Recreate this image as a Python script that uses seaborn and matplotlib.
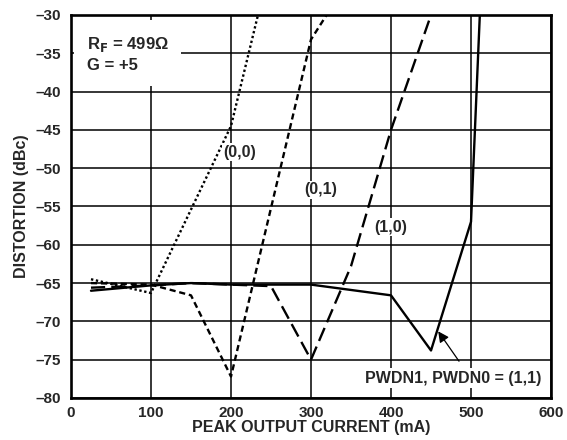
import matplotlib
matplotlib.use("Agg")
import matplotlib.pyplot as plt
import seaborn as sns
import pandas as pd

# peak output current (mA) and distortion (dBc) per PWDN1,PWDN0 setting
x_00 = [25, 100, 200, 250]
y_00 = [-64.5, -66.3, -44.5, -23.0]

x_01 = [25, 100, 150, 200, 300, 350]
y_01 = [-65.0, -65.2, -66.6, -77.2, -33.2, -25.0]

x_10 = [25, 100, 150, 200, 250, 300, 350, 400, 450]
y_10 = [-65.6, -65.3, -65.0, -65.2, -65.4, -75.0, -62.8, -45.0, -30.0]

x_11 = [25, 100, 150, 200, 300, 400, 450, 500, 520]
y_11 = [-66.0, -65.3, -65.0, -65.2, -65.2, -66.6, -73.8, -57.0, -8.0]

series = ["(0,0)", "(0,1)", "(1,0)", "(1,1)"]

frames = []
for name, xs, ys in zip(series, [x_00, x_01, x_10, x_11], [y_00, y_01, y_10, y_11]):
    frames.append(pd.DataFrame({"current": xs, "dist": ys, "mode": name}))
df = pd.concat(frames, ignore_index=True)

sns.set_style("white")
plt.rcParams["font.family"] = ["Liberation Sans", "DejaVu Sans"]
plt.rcParams["font.weight"] = "bold"
plt.rcParams["mathtext.default"] = "bf"

fig = plt.figure(figsize=(5.67, 4.4), dpi=100)
ax = fig.add_axes([0.1252, 0.0955, 0.8466, 0.8705])

dashes = {"(0,0)": (1, 1.1), "(0,1)": (2.6, 1.6), "(1,0)": (6, 2.6), "(1,1)": ""}
sns.lineplot(data=df, x="current", y="dist", hue="mode", style="mode",
             palette=["black"] * 4, dashes=dashes, linewidth=1.7,
             legend=False, sort=False, estimator=None, ax=ax, zorder=3)

ax.set_xlim(0, 600)
ax.set_ylim(-80, -30)
ax.set_xticks(range(0, 601, 100))
ax.set_yticks(range(-80, -29, 5))
ax.set_yticklabels([f"\u2013{abs(v)}" for v in range(-80, -29, 5)])
ax.grid(True, color="black", linewidth=1.1)
ax.tick_params(length=0, labelsize=11)
ax.tick_params(axis="y", pad=7)
ax.tick_params(axis="x", pad=6)
for lbl in ax.get_xticklabels() + ax.get_yticklabels():
    lbl.set_fontweight("bold")
for s in ax.spines.values():
    s.set_visible(True)
    s.set_color("black")
    s.set_linewidth(1.9)

ax.set_xlabel("PEAK OUTPUT CURRENT (mA)", fontsize=11.5, fontweight="bold", labelpad=0)
ax.set_ylabel("DISTORTION (dBc)", fontsize=11.5, fontweight="bold", labelpad=5)

ax.text(20, -35.1, "R$_F$ = 499\u03a9\nG = +5", fontsize=12, fontweight="bold",
        va="center", ha="left", linespacing=1.35, zorder=4,
        bbox=dict(facecolor="white", edgecolor="none", pad=9))

lbl_box = dict(facecolor="white", edgecolor="none", pad=1)
ax.text(211, -47.9, "(0,0)", fontsize=11.5, fontweight="bold", ha="center", va="center",
        zorder=4, bbox=lbl_box)
ax.text(312, -52.8, "(0,1)", fontsize=11.5, fontweight="bold", ha="center", va="center",
        zorder=4, bbox=lbl_box)
ax.text(400, -57.7, "(1,0)", fontsize=11.5, fontweight="bold", ha="center", va="center",
        zorder=4, bbox=lbl_box)
ax.text(588, -77.4, "PWDN1, PWDN0 = (1,1)", fontsize=11.5, fontweight="bold",
        ha="right", va="center", zorder=4,
        bbox=dict(facecolor="white", edgecolor="none", pad=2))
ax.annotate("", xy=(459, -71.3), xytext=(485, -75.2),
            arrowprops=dict(arrowstyle="-|>", color="black", lw=0.9,
                            mutation_scale=16, shrinkA=0, shrinkB=0), zorder=4)

fig.savefig("out.png", dpi=100)
